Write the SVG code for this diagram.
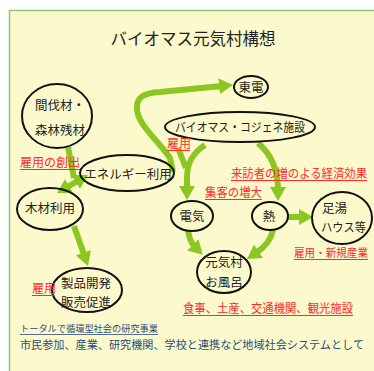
<svg xmlns="http://www.w3.org/2000/svg" width="374" height="371" viewBox="0 0 374 371">
<style>
.n{fill:none;stroke:#111;stroke-width:2}
.t{font-family:"Noto Sans CJK JP","Noto Sans CJK SC",sans-serif;font-size:12.5px;fill:#222}
.m{text-anchor:middle}
.r{font-family:"Noto Sans CJK JP","Noto Sans CJK SC",sans-serif;font-size:12px;fill:#ff2a2a}
.u{stroke:#ff2a2a;stroke-width:1}
.b{font-family:"Noto Sans CJK JP","Noto Sans CJK SC",sans-serif;fill:#2a4a7a}
.a{fill:none;stroke:#8cc620;stroke-width:6}
</style>
<defs>
<marker id="ah" viewBox="0 0 14 16" markerWidth="14" markerHeight="16" markerUnits="userSpaceOnUse" refX="3" refY="8" orient="auto-start-reverse">
<path d="M0,0 L14,8 L0,16 z" fill="#8cc620"/>
</marker>
</defs>
<rect width="374" height="371" fill="#fff"/>
<rect x="9.5" y="10.5" width="380" height="380" fill="#fcfacc" stroke="#8cc878" stroke-width="1.5"/>
<text x="193" y="45" class="t m" style="font-size:16.5px">バイオマス元気村構想</text>

<g id="connectors">
<path class="a" d="M68,147 L74,178"/>
<path class="a" d="M66.5,187.5 L78.5,180.5" marker-start="url(#ah)" marker-end="url(#ah)"/>
<path class="a" d="M74,226 L84.4,255.6" marker-end="url(#ah)"/>
<path class="a" d="M173,172 L170,158 C 160,142 138,126 137,109 C 136,97 144,93 160,92 L222,86" marker-end="url(#ah)"/>
<path class="a" d="M205,145 C 191,154 187,165 187,178 L187,189" marker-end="url(#ah)"/>
<path class="a" d="M178,148 L186,168"/>
<path class="a" d="M258,143 C 271,154 278,168 278,190" marker-end="url(#ah)"/>
<path class="a" d="M288,217 L302,217" marker-end="url(#ah)"/>
<path class="a" d="M188,230 C 189,238 191,243 195,247" marker-end="url(#ah)"/>
<path class="a" d="M273,230 C 271,240 265,247 256,253" marker-end="url(#ah)"/>
</g>

<g id="kanbatsu">
<ellipse class="n" cx="57" cy="116" rx="35" ry="32"/>
<text x="60" y="110" class="t m">間伐材・</text>
<text x="60" y="135" class="t m">森林残材</text>
</g>
<g id="energy">
<ellipse class="n" cx="127" cy="173" rx="47" ry="18"/>
<text x="128" y="179" class="t m">エネルギー利用</text>
</g>
<g id="mokuzai">
<ellipse class="n" cx="50" cy="209" rx="33" ry="21"/>
<text x="50" y="213" class="t m">木材利用</text>
</g>
<g id="toden">
<ellipse class="n" cx="251" cy="87" rx="17" ry="11"/>
<text x="251" y="92" class="t m">東電</text>
</g>
<g id="cogen">
<ellipse class="n" cx="240" cy="127" rx="75" ry="15"/>
<text x="240" y="132" class="t m" textLength="130" lengthAdjust="spacingAndGlyphs">バイオマス・コジェネ施設</text>
</g>
<g id="denki">
<ellipse class="n" cx="192" cy="216" rx="21" ry="15"/>
<text x="192" y="221" class="t m">電気</text>
</g>
<g id="netsu">
<ellipse class="n" cx="270" cy="216" rx="18" ry="14"/>
<text x="269" y="221" class="t m">熱</text>
</g>
<g id="ashiyu">
<ellipse class="n" cx="342" cy="218" rx="30" ry="26"/>
<text x="322" y="213" class="t">足湯</text>
<text x="321" y="232" class="t" textLength="45" lengthAdjust="spacingAndGlyphs">ハウス等</text>
</g>
<g id="ofuro">
<ellipse class="n" cx="224" cy="272" rx="27" ry="21"/>
<text x="224" y="267" class="t m">元気村</text>
<text x="224" y="287" class="t m">お風呂</text>
</g>
<g id="seihin">
<ellipse class="n" cx="87" cy="290" rx="35" ry="22"/>
<text x="86" y="288" class="t m">製品開発</text>
<text x="86" y="307" class="t m">販売促進</text>
</g>

<g id="labels">
<text x="20" y="167" class="r">雇用の創出</text><line class="u" x1="20" y1="169.5" x2="80" y2="169.5"/>
<text x="167" y="148" class="r">雇用</text><line class="u" x1="167" y1="150.5" x2="190" y2="150.5"/>
<text x="231" y="178" class="r" textLength="136" lengthAdjust="spacingAndGlyphs">来訪者の増のよる経済効果</text><line class="u" x1="231" y1="180.5" x2="367" y2="180.5"/>
<text x="205" y="197" class="r" textLength="57" lengthAdjust="spacingAndGlyphs">集客の増大</text><line class="u" x1="205" y1="199.5" x2="262" y2="199.5"/>
<text x="294" y="257" class="r" style="font-size:11px" textLength="74" lengthAdjust="spacingAndGlyphs">雇用・新規産業</text><line class="u" x1="294" y1="259.5" x2="368" y2="259.5"/>
<text x="32" y="293" class="r">雇用</text><line class="u" x1="32" y1="295.5" x2="55" y2="295.5"/>
<text x="183" y="313" class="r" textLength="170" lengthAdjust="spacingAndGlyphs">食事、土産、交通機関、観光施設</text><line class="u" x1="183" y1="315.5" x2="353" y2="315.5"/>
<text x="20" y="332" class="b" style="font-size:9px" textLength="138" lengthAdjust="spacingAndGlyphs">トータルで循環型社会の研究事業</text><line x1="20" y1="334.5" x2="158" y2="334.5" stroke="#2a4a7a" stroke-width="0.8"/>
<text x="20" y="349" class="b" style="font-size:11px" textLength="344" lengthAdjust="spacingAndGlyphs">市民参加、産業、研究機関、学校と連携など地域社会システムとして</text>
</g>
</svg>
